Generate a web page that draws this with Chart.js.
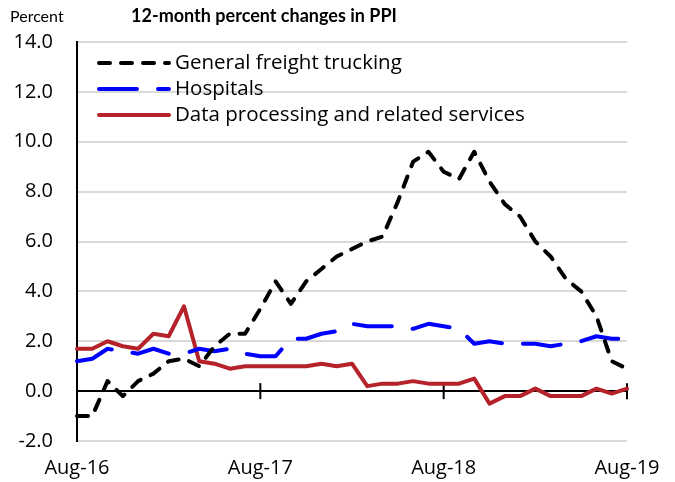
<!DOCTYPE html>
<html>
<head>
<meta charset="utf-8">
<script src="https://cdn.jsdelivr.net/npm/chart.js@4"></script>
<style>
  html, body { margin: 0; padding: 0; background: #fff; }
</style>
</head>
<body>
<canvas id="chart" width="675" height="482"></canvas>
<script>
const months = [
  'Aug-16', 'Sep-16', 'Oct-16', 'Nov-16', 'Dec-16', 'Jan-17', 'Feb-17', 'Mar-17', 'Apr-17', 'May-17', 'Jun-17', 'Jul-17',
  'Aug-17', 'Sep-17', 'Oct-17', 'Nov-17', 'Dec-17', 'Jan-18', 'Feb-18', 'Mar-18', 'Apr-18', 'May-18', 'Jun-18', 'Jul-18',
  'Aug-18', 'Sep-18', 'Oct-18', 'Nov-18', 'Dec-18', 'Jan-19', 'Feb-19', 'Mar-19', 'Apr-19', 'May-19', 'Jun-19', 'Jul-19',
  'Aug-19'
]
const tickLabels = ['Aug-16', 'Aug-17', 'Aug-18', 'Aug-19']
const yTicks = [-2, 0, 2, 4, 6, 8, 10, 12, 14]

const freight = [
  -1.0, -1.0, 0.4, -0.2, 0.4, 0.7, 1.2, 1.3, 1.0, 1.8, 2.3, 2.3,
  3.3, 4.4, 3.5, 4.4, 4.9, 5.4, 5.7, 6.0, 6.2, 7.6, 9.2, 9.6,
  8.8, 8.5, 9.6, 8.4, 7.5, 7.0, 6.0, 5.4, 4.5, 4.0, 3.0, 1.2,
  0.9
]
const hospitals = [
  1.2, 1.3, 1.7, 1.6, 1.5, 1.7, 1.5, 1.5, 1.7, 1.6, 1.7, 1.5,
  1.4, 1.4, 2.1, 2.1, 2.3, 2.4, 2.7, 2.6, 2.6, 2.6, 2.5, 2.7,
  2.6, 2.5, 1.9, 2.0, 1.9, 1.9, 1.9, 1.8, 1.9, 2.0, 2.2, 2.1,
  2.1
]
const dataProcessing = [
  1.7, 1.7, 2.0, 1.8, 1.7, 2.3, 2.2, 3.4, 1.2, 1.1, 0.9, 1.0,
  1.0, 1.0, 1.0, 1.0, 1.1, 1.0, 1.1, 0.2, 0.3, 0.3, 0.4, 0.3,
  0.3, 0.3, 0.5, -0.5, -0.2, -0.2, 0.1, -0.2, -0.2, -0.2, 0.1, -0.1,
  0.1
]

const FONT = '"Open Sans", Lato, sans-serif'
const GRID = '#d9d9d9'

// title, "Percent", in-plot legend and the tick marks on the zero line
const decor = {
  id: 'decor',
  beforeDatasetsDraw (chart) {
    const { ctx, scales: { x, y } } = chart
    const y0 = y.getPixelForValue(0)
    ctx.save()
    ctx.strokeStyle = '#000'
    ctx.lineWidth = 2
    months.forEach((m, i) => {
      if (!tickLabels.includes(m) || i === 0) return
      const px = x.getPixelForValue(i)
      ctx.beginPath()
      ctx.moveTo(px, y0 - 8)
      ctx.lineTo(px, y0 + 8)
      ctx.stroke()
    })
    ctx.restore()
  },
  afterDraw (chart) {
    const ctx = chart.ctx
    ctx.save()
    ctx.fillStyle = '#000'
    ctx.textBaseline = 'middle'
    ctx.font = '16px Lato, sans-serif'
    ctx.textAlign = 'left'
    ctx.fillText('Percent', 10, 17)
    ctx.font = 'bold 18px Lato, sans-serif'
    ctx.textAlign = 'center'
    ctx.fillText('12-month percent changes in PPI', 264, 16)

    ctx.font = '20.5px ' + FONT
    ctx.textAlign = 'left'
    chart.data.datasets.forEach((ds, i) => {
      const ly = 63 + i * 26
      ctx.beginPath()
      ctx.setLineDash(ds.borderDash || [])
      ctx.lineCap = 'round'
      ctx.strokeStyle = ds.borderColor
      ctx.lineWidth = ds.borderWidth
      ctx.moveTo(99, ly)
      ctx.lineTo(169, ly)
      ctx.stroke()
      ctx.setLineDash([])
      ctx.fillText(ds.label, 175, ly)
    })
    ctx.restore()
  }
}

new Chart(document.getElementById('chart'), {
  type: 'line',
  data: {
    labels: months,
    datasets: [
      {
        label: 'General freight trucking',
        data: freight,
        borderColor: '#000000',
        borderWidth: 4,
        borderDash: [11, 11],
        borderCapStyle: 'round'
      },
      {
        label: 'Hospitals',
        data: hospitals,
        borderColor: '#0000ff',
        borderWidth: 4,
        borderDash: [38, 21],
        borderCapStyle: 'round'
      },
      {
        label: 'Data processing and related services',
        data: dataProcessing,
        borderColor: '#b5222a',
        borderWidth: 4,
        borderCapStyle: 'round'
      }
    ]
  },
  options: {
    responsive: false,
    animation: false,
    devicePixelRatio: 1,
    layout: { padding: { top: 42, right: 48, left: 0, bottom: 0 } },
    elements: {
      point: { radius: 0 },
      line: { tension: 0, borderJoinStyle: 'round' }
    },
    plugins: {
      legend: { display: false },
      tooltip: { enabled: false },
      title: { display: false }
    },
    scales: {
      x: {
        type: 'category',
        offset: false,
        border: { display: false },
        grid: {
          drawTicks: false,
          lineWidth: 2,
          color: c => (c.index === months.length - 1 ? GRID : 'rgba(0,0,0,0)')
        },
        ticks: {
          autoSkip: false,
          maxRotation: 0,
          padding: 15,
          color: '#000',
          font: { family: FONT, size: 20 },
          callback: (v, i) => (tickLabels.includes(months[i]) ? months[i] : null)
        },
        afterFit: s => { s.height = 41 }
      },
      y: {
        min: yTicks[0],
        max: yTicks[yTicks.length - 1],
        border: { display: true, color: '#000', width: 2 },
        grid: {
          drawTicks: false,
          lineWidth: 2,
          color: c => (c.tick && c.tick.value === 0 ? '#000' : GRID)
        },
        afterBuildTicks: s => { s.ticks = yTicks.map(v => ({ value: v })) },
        ticks: {
          padding: 24,
          color: '#000',
          font: { family: FONT, size: 20 },
          callback: v => Number(v).toFixed(1)
        },
        afterFit: s => { s.width = 77 }
      }
    }
  },
  plugins: [decor]
})
</script>
</body>
</html>
